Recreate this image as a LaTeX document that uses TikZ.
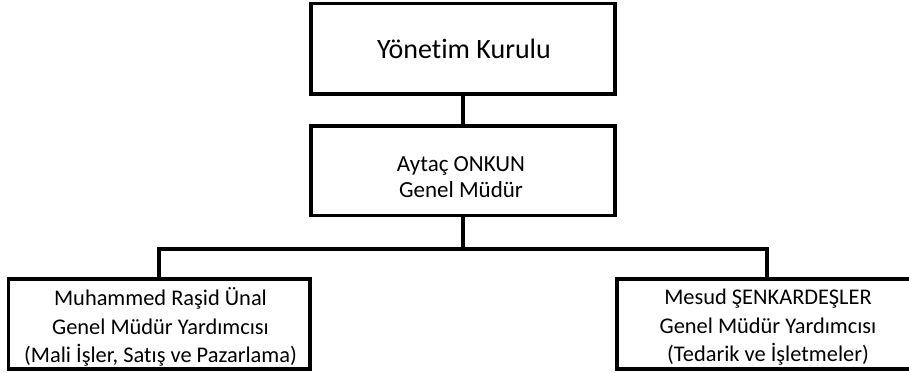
\documentclass[tikz,border=0pt]{standalone}
\usepackage{fontspec}
\setmainfont{Carlito}[Ligatures={NoCommon}]
\tikzset{
  orgbox/.style={draw=black, line width=3.8pt, rectangle, inner sep=0pt, fill=none},
  conn/.style={draw=black, line width=3.8pt},
  lbl/.style={anchor=base, inner sep=0pt, text=black},
}
\newcommand{\twolines}[2]{\begin{tabular}[t]{@{}c@{}}#1\\#2\end{tabular}}
\newcommand{\threelines}[3]{\begin{tabular}[t]{@{}c@{}}#1\\#2\\#3\end{tabular}}
\begin{document}
\begin{tikzpicture}[x=1pt, y=-1pt]
  \useasboundingbox (0,0) rectangle (909,374);
  \fill[white] (0,0) rectangle (909,374);
  \clip (0,0) rectangle (909,374);
  % boxes
  \node[orgbox, minimum width=304pt, minimum height=90.5pt] (b1) at (463,48.75) {};
  \node[orgbox, minimum width=304pt, minimum height=89.5pt] (b2) at (463,170.75) {};
  \node[orgbox, minimum width=301.5pt, minimum height=90pt] (b3) at (159.25,324) {};
  \node[orgbox, minimum width=300pt, minimum height=90pt] (b4) at (767,324) {};
  % labels
  \node[lbl, font=\fontsize{28}{34}\selectfont] (t1) at (464,58.5) {Yönetim Kurulu};
  \node[lbl, font=\fontsize{23}{26}\selectfont] (t2) at (461,171.7) {\twolines{Aytaç ONKUN}{Genel Müdür}};
  \node[lbl, font=\fontsize{22.4}{28.6}\selectfont] (t3) at (160.5,305.5) {\threelines{Muhammed Raşid Ünal}{Genel Müdür Yardımcısı}{(Mali İşler, Satış ve Pazarlama)}};
  \node[lbl, font=\fontsize{22.4}{28.6}\selectfont] (t4) at (768,304.5) {\threelines{Mesud ŞENKARDEŞLER}{Genel Müdür Yardımcısı}{(Tedarik ve İşletmeler)}};
  % connectors
  \coordinate (j) at (463,249);
  \draw[conn] (b1.south) -- (b2.north);
  \draw[conn] (b2.south) -- (j);
  \draw[conn] (b3.north) |- (j) -| (b4.north);
\end{tikzpicture}
\end{document}
